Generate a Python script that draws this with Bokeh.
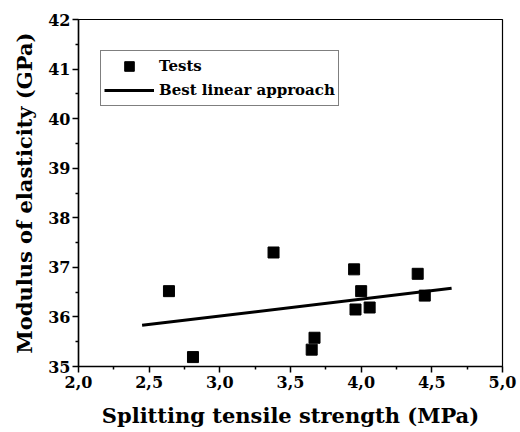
from bokeh.plotting import figure
from bokeh.models import Range1d, Legend, LegendItem, CustomJSTickFormatter, FixedTicker
from bokeh.embed import file_html
from bokeh.resources import INLINE

# Test results: splitting tensile strength (MPa) vs modulus of elasticity (GPa)
tensile_strength = [2.64, 2.81, 3.38, 3.65, 3.67, 3.95, 3.96, 4.00, 4.06, 4.40, 4.45]
elastic_modulus = [36.52, 35.19, 37.30, 35.34, 35.58, 36.96, 36.15, 36.52, 36.19, 36.87, 36.43]

# Best linear fit drawn across the tested range
fit_x = [2.45, 4.64]
fit_y = [35.83, 36.58]

x_ticks = [2.0, 2.5, 3.0, 3.5, 4.0, 4.5, 5.0]
y_ticks = [35, 36, 37, 38, 39, 40, 41, 42]

FONT = "DejaVu Serif"

p = figure(width=520, height=432, output_backend="svg", toolbar_location=None,
           x_range=Range1d(2.0, 5.0), y_range=Range1d(35, 42),
           min_border_left=78, min_border_right=18, min_border_top=19, min_border_bottom=66)

p.xgrid.visible = False
p.ygrid.visible = False
p.outline_line_color = "black"
p.outline_line_width = 1.2
p.background_fill_color = "white"
p.border_fill_color = "white"

sq = p.scatter(tensile_strength, elastic_modulus, marker="square", size=11,
               fill_color="black", line_color="black")
ln = p.line(fit_x, fit_y, line_color="black", line_width=3)

for ax in (p.xaxis[0], p.yaxis[0]):
    ax.axis_line_width = 1.5
    ax.major_tick_line_width = 1.5
    ax.minor_tick_line_width = 1.5
    ax.major_tick_in = 0
    ax.major_tick_out = 6
    ax.minor_tick_in = 0
    ax.minor_tick_out = 3
    ax.major_label_text_font = FONT
    ax.major_label_text_font_style = "bold"
    ax.major_label_text_font_size = "16px"
    ax.major_label_text_color = "black"
    ax.axis_label_text_font = FONT
    ax.axis_label_text_font_style = "bold"
    ax.axis_label_text_font_size = "21px"
    ax.axis_label_text_color = "black"

p.xaxis.ticker = FixedTicker(ticks=x_ticks, minor_ticks=[2.25 + 0.5 * i for i in range(6)])
p.yaxis.ticker = FixedTicker(ticks=y_ticks, minor_ticks=[35.5 + i for i in range(7)])
p.xaxis.formatter = CustomJSTickFormatter(code="return tick.toFixed(1).replace('.', ',');")
p.yaxis.formatter = CustomJSTickFormatter(code="return tick.toFixed(0);")
p.xaxis.major_label_standoff = 3
p.yaxis.major_label_standoff = 2
p.xaxis.axis_label = "Splitting tensile strength (MPa)"
p.yaxis.axis_label = "Modulus of elasticity (GPa)"
p.xaxis.axis_label_standoff = 12
p.yaxis.axis_label_standoff = 8

legend = Legend(items=[LegendItem(label="Tests", renderers=[sq]),
                       LegendItem(label="Best linear approach", renderers=[ln])],
                orientation="vertical")
legend.border_line_color = "black"
legend.border_line_width = 1
legend.background_fill_alpha = 1
legend.padding = 3
legend.spacing = 0
legend.margin = 0
legend.glyph_width = 50
legend.glyph_height = 24
legend.label_height = 24
legend.label_standoff = 5
legend.label_text_font = FONT
legend.label_text_font_style = "bold"
legend.label_text_font_size = "15px"
legend.label_text_color = "black"
# legend box sits in the upper left of the frame
legend.location = (22, 347 - 31 - 56)
p.add_layout(legend, "center")

open("out.html", "w").write(file_html(p, INLINE))
